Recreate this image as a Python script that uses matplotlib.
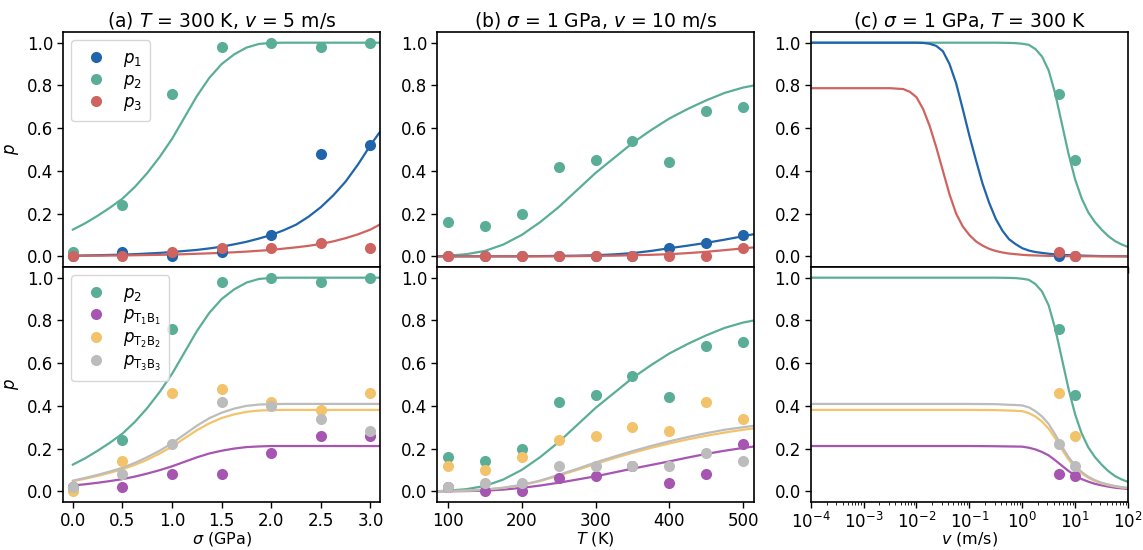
import numpy as np
import matplotlib
matplotlib.use("Agg")
import matplotlib.pyplot as plt

# ---------------- colours ----------------
C_BLUE = "#2064ab"
C_TEAL = "#5aae97"
C_RED = "#cf6360"
C_PURPLE = "#a655b1"
C_YELLOW = "#f3c36c"
C_GRAY = "#bcbcbc"

# ---------------- data: panel (a) ----------------
sigma_pts = [0.0, 0.5, 1.0, 1.5, 2.0, 2.5, 3.0]
a_p1 = [0.0, 0.02, 0.0, 0.02, 0.10, 0.48, 0.52]
a_p2 = [0.02, 0.24, 0.76, 0.98, 1.0, 0.98, 1.0]
a_p3 = [0.0, 0.0, 0.02, 0.04, 0.04, 0.06, 0.04]
a_t1 = [0.02, 0.02, 0.08, 0.08, 0.18, 0.26, 0.26]
a_t2 = [0.0, 0.14, 0.46, 0.48, 0.42, 0.38, 0.46]
a_t3 = [0.02, 0.08, 0.22, 0.42, 0.40, 0.34, 0.28]

sigma_fit = [0.0, 0.125, 0.25, 0.375, 0.5, 0.625, 0.75, 0.875, 1.0, 1.125, 1.25, 1.375, 1.5,
             1.625, 1.75, 1.875, 2.0, 2.125, 2.25, 2.375, 2.5, 2.625, 2.75, 2.875, 3.0, 3.1]
a_fit_p2 = [0.125, 0.155, 0.19, 0.228, 0.27, 0.325, 0.39, 0.465, 0.55, 0.65, 0.75, 0.835, 0.90,
            0.945, 0.977, 0.994, 0.999, 1.0, 1.0, 1.0, 1.0, 1.0, 1.0, 1.0, 1.0, 1.0]
a_fit_p1 = [0.003, 0.004, 0.005, 0.0065, 0.008, 0.01, 0.013, 0.016, 0.02, 0.025, 0.03, 0.037, 0.045,
            0.056, 0.068, 0.083, 0.10, 0.122, 0.148, 0.185, 0.23, 0.285, 0.35, 0.43, 0.52, 0.585]
a_fit_p3 = [0.002, 0.0025, 0.003, 0.0035, 0.004, 0.005, 0.006, 0.007, 0.008, 0.01, 0.012, 0.014, 0.016,
            0.019, 0.022, 0.026, 0.03, 0.036, 0.042, 0.049, 0.058, 0.07, 0.085, 0.103, 0.125, 0.15]
a_fit_t1 = [0.027, 0.033, 0.04, 0.048, 0.057, 0.069, 0.083, 0.099, 0.117, 0.138, 0.159, 0.177, 0.19,
            0.2, 0.207, 0.21, 0.212, 0.212, 0.212, 0.212, 0.212, 0.212, 0.212, 0.212, 0.212, 0.212]
a_fit_t2 = [0.047, 0.059, 0.072, 0.087, 0.103, 0.124, 0.148, 0.177, 0.209, 0.248, 0.286, 0.318, 0.343,
            0.36, 0.372, 0.378, 0.38, 0.381, 0.381, 0.381, 0.381, 0.381, 0.381, 0.381, 0.381, 0.381]
a_fit_t3 = [0.05, 0.063, 0.077, 0.093, 0.11, 0.133, 0.16, 0.19, 0.225, 0.266, 0.307, 0.342, 0.368,
            0.387, 0.40, 0.406, 0.408, 0.409, 0.409, 0.409, 0.409, 0.409, 0.409, 0.409, 0.409, 0.409]

# ---------------- data: panel (b) ----------------
T_pts = [100, 150, 200, 250, 300, 350, 400, 450, 500]
b_p1 = [0.0, 0.0, 0.0, 0.0, 0.0, 0.0, 0.04, 0.06, 0.10]
b_p2 = [0.16, 0.14, 0.20, 0.42, 0.45, 0.54, 0.44, 0.68, 0.70]
b_p3 = [0.0, 0.0, 0.0, 0.0, 0.0, 0.0, 0.0, 0.0, 0.04]
b_t1 = [0.02, 0.0, 0.0, 0.06, 0.07, 0.12, 0.04, 0.08, 0.22]
b_t2 = [0.12, 0.10, 0.16, 0.24, 0.26, 0.30, 0.28, 0.42, 0.34]
b_t3 = [0.02, 0.04, 0.04, 0.12, 0.12, 0.12, 0.12, 0.18, 0.14]

T_fit = [85, 100, 125, 150, 175, 200, 225, 250, 275, 300, 325, 350, 375, 400, 425, 450, 475, 500, 515]
b_fit_p2 = [0.0, 0.003, 0.01, 0.025, 0.055, 0.10, 0.16, 0.23, 0.31, 0.39, 0.46, 0.53, 0.59, 0.645, 0.69, 0.73, 0.765, 0.79, 0.80]
b_fit_p1 = [0.0, 0.0, 0.0, 0.0, 0.0, 0.0, 0.001, 0.002, 0.003, 0.005, 0.009, 0.015, 0.025, 0.038, 0.05, 0.063, 0.078, 0.094, 0.104]
b_fit_p3 = [0.0, 0.0, 0.0, 0.0, 0.0, 0.0, 0.0, 0.0, 0.001, 0.002, 0.003, 0.005, 0.007, 0.01, 0.015, 0.021, 0.029, 0.037, 0.042]
b_fit_t1 = [0.0, 0.0, 0.001, 0.003, 0.008, 0.016, 0.027, 0.04, 0.055, 0.07, 0.088, 0.106, 0.123, 0.14, 0.158, 0.175, 0.19, 0.203, 0.21]
b_fit_t2 = [0.0, 0.001, 0.003, 0.008, 0.016, 0.029, 0.048, 0.073, 0.10, 0.128, 0.155, 0.18, 0.203, 0.224, 0.243, 0.26, 0.275, 0.288, 0.295]
b_fit_t3 = [0.0, 0.001, 0.003, 0.008, 0.017, 0.03, 0.05, 0.077, 0.105, 0.135, 0.162, 0.188, 0.212, 0.234, 0.254, 0.272, 0.288, 0.30, 0.307]

# ---------------- data: panel (c) ----------------
v_pts = [5, 10]
c_p1 = [0.0, 0.0]
c_p2 = [0.76, 0.45]
c_p3 = [0.02, 0.0]
c_t1 = [0.08, 0.07]
c_t2 = [0.46, 0.26]
c_t3 = [0.22, 0.12]

# exponents of v (m/s) at which the fitted curves were read
v_exp_a = [-4, -3, -2.5, -2.25, -2.125, -2.0, -1.875, -1.75, -1.625, -1.5, -1.375, -1.25, -1.125,
           -1.0, -0.875, -0.75, -0.625, -0.5, -0.375, -0.25, -0.125, 0.0, 0.125, 0.25, 0.5, 0.75,
           1.0, 1.5, 2.0]
c_fit_p1 = [1.0, 1.0, 1.0, 1.0, 1.0, 1.0, 0.999, 0.995, 0.985, 0.96, 0.90, 0.81, 0.69,
            0.565, 0.45, 0.34, 0.25, 0.175, 0.12, 0.08, 0.057, 0.038, 0.027, 0.02, 0.012, 0.007,
            0.004, 0.001, 0.0]
c_fit_p3 = [0.787, 0.787, 0.787, 0.783, 0.77, 0.745, 0.69, 0.61, 0.51, 0.40, 0.29, 0.20, 0.14,
            0.10, 0.07, 0.05, 0.035, 0.025, 0.018, 0.013, 0.01, 0.007, 0.005, 0.004, 0.002, 0.001,
            0.0005, 0.0, 0.0]

v_exp_b = [-4, -2, -1, -0.5, -0.25, -0.125, 0.0, 0.125, 0.25, 0.375, 0.5, 0.625, 0.75, 0.875,
           1.0, 1.125, 1.25, 1.375, 1.5, 1.625, 1.75, 1.875, 2.0]
c_fit_p2 = [1.0, 1.0, 1.0, 1.0, 0.999, 0.998, 0.995, 0.99, 0.97, 0.935, 0.87, 0.76, 0.62, 0.48,
            0.36, 0.27, 0.205, 0.16, 0.125, 0.095, 0.072, 0.056, 0.044]
c_fit_t1 = [0.212, 0.212, 0.212, 0.211, 0.21, 0.2095, 0.209, 0.204, 0.196, 0.184, 0.168, 0.145, 0.12, 0.095,
            0.074, 0.057, 0.045, 0.035, 0.028, 0.022, 0.017, 0.014, 0.011]
c_fit_t2 = [0.381, 0.381, 0.381, 0.38, 0.378, 0.377, 0.375, 0.366, 0.35, 0.326, 0.293, 0.247, 0.196, 0.149,
            0.112, 0.084, 0.063, 0.048, 0.037, 0.029, 0.023, 0.018, 0.015]
c_fit_t3 = [0.409, 0.409, 0.409, 0.408, 0.405, 0.404, 0.402, 0.393, 0.375, 0.35, 0.315, 0.265, 0.21, 0.16,
            0.12, 0.09, 0.068, 0.052, 0.04, 0.032, 0.025, 0.02, 0.016]

# ---------------- figure ----------------
plt.rcParams["font.family"] = ["DejaVu Sans"]
plt.rcParams["mathtext.fontset"] = "dejavusans"
FS_TICK = 12
FS_LABEL = 11.5
FS_TITLE = 13.5

fig, axes = plt.subplots(2, 3, figsize=(11.43, 5.5), dpi=100, sharex="col")
fig.subplots_adjust(left=0.0551, right=0.9869, bottom=0.0873, top=0.9418,
                    hspace=0.0, wspace=0.178)

LW = 1.6
MS = 8


def draw(ax, x_fit, fits, x_pts, pts, colors, labels):
    for y, c in zip(fits, colors):
        ax.plot(x_fit, y, color=c, lw=LW, zorder=2)
    for y, c, lab in zip(pts, colors, labels):
        ax.plot(x_pts, y, "o", color=c, ms=MS, mec="none", label=lab, zorder=3)


top_cols = [C_BLUE, C_TEAL, C_RED]
top_labels = [r"$p_1$", r"$p_2$", r"$p_3$"]
bot_cols = [C_TEAL, C_PURPLE, C_YELLOW, C_GRAY]
bot_labels = [r"$p_2$", r"$p_{\mathrm{T}_1\mathrm{B}_1}$",
              r"$p_{\mathrm{T}_2\mathrm{B}_2}$", r"$p_{\mathrm{T}_3\mathrm{B}_3}$"]

v_fit_a = [10.0 ** e for e in v_exp_a]
v_fit_b = [10.0 ** e for e in v_exp_b]

# panel a
draw(axes[0, 0], sigma_fit, [a_fit_p1, a_fit_p2, a_fit_p3], sigma_pts,
     [a_p1, a_p2, a_p3], top_cols, top_labels)
draw(axes[1, 0], sigma_fit, [a_fit_p2, a_fit_t1, a_fit_t2, a_fit_t3], sigma_pts,
     [a_p2, a_t1, a_t2, a_t3], bot_cols, bot_labels)
# panel b
draw(axes[0, 1], T_fit, [b_fit_p2, b_fit_p1, b_fit_p3], T_pts,
     [b_p2, b_p1, b_p3], [C_TEAL, C_BLUE, C_RED], top_labels)
draw(axes[1, 1], T_fit, [b_fit_p2, b_fit_t1, b_fit_t2, b_fit_t3], T_pts,
     [b_p2, b_t1, b_t2, b_t3], bot_cols, bot_labels)
# panel c
axes[0, 2].plot(v_fit_b, c_fit_p2, color=C_TEAL, lw=LW, zorder=2)
axes[0, 2].plot(v_fit_a, c_fit_p1, color=C_BLUE, lw=LW, zorder=2)
axes[0, 2].plot(v_fit_a, c_fit_p3, color=C_RED, lw=LW, zorder=2)
for y, c in zip([c_p1, c_p2, c_p3], top_cols):
    axes[0, 2].plot(v_pts, y, "o", color=c, ms=MS, mec="none", zorder=3)
draw(axes[1, 2], v_fit_b, [c_fit_p2, c_fit_t1, c_fit_t2, c_fit_t3], v_pts,
     [c_p2, c_t1, c_t2, c_t3], bot_cols, bot_labels)

for ax in axes.flat:
    ax.set_ylim(-0.05, 1.05)
    ax.set_yticks([0.0, 0.2, 0.4, 0.6, 0.8, 1.0])
    ax.tick_params(labelsize=FS_TICK, width=1.0, length=4, pad=3)
    for s in ax.spines.values():
        s.set_linewidth(1.2)

axes[1, 0].set_xlim(-0.1, 3.1)
axes[1, 0].set_xticks([0.0, 0.5, 1.0, 1.5, 2.0, 2.5, 3.0])
axes[1, 1].set_xlim(85, 515)
axes[1, 1].set_xticks([100, 200, 300, 400, 500])
axes[1, 2].set_xscale("log")
axes[1, 2].set_xlim(1e-4, 1e2)
axes[1, 2].set_xticks([1e-4, 1e-3, 1e-2, 1e-1, 1e0, 1e1, 1e2])

for ax in axes[0]:
    ax.tick_params(labelbottom=False)

axes[0, 0].set_ylabel(r"$p$", fontsize=12)
axes[1, 0].set_ylabel(r"$p$", fontsize=12)
axes[1, 0].set_xlabel(r"$\sigma$ (GPa)", fontsize=FS_LABEL)
axes[1, 1].set_xlabel(r"$T$ (K)", fontsize=FS_LABEL)
axes[1, 2].set_xlabel(r"$v$ (m/s)", fontsize=FS_LABEL)
for ax in axes[1]:
    ax.xaxis.set_label_coords(0.5, -0.12)

axes[0, 0].set_title(r"(a) $T$ = 300 K, $v$ = 5 m/s", fontsize=FS_TITLE, pad=4)
axes[0, 1].set_title(r"(b) $\sigma$ = 1 GPa, $v$ = 10 m/s", fontsize=FS_TITLE, pad=4)
axes[0, 2].set_title(r"(c) $\sigma$ = 1 GPa, $T$ = 300 K", fontsize=FS_TITLE, pad=4)

for ax in axes[:, 0]:
    ax.legend(loc="upper left", fontsize=12, handletextpad=0.6, borderpad=0.5,
              labelspacing=0.12)

fig.savefig("out.png", dpi=100)
